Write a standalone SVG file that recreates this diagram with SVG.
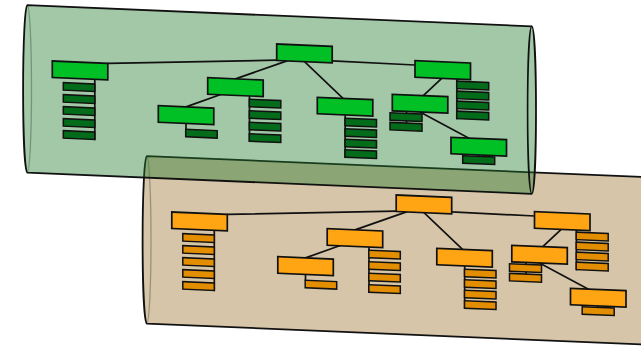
<svg xmlns="http://www.w3.org/2000/svg" width="641" height="346" viewBox="0 0 641 346">
  <style>
    .cyl-g { fill: #247c2d; fill-opacity: 0.42; stroke: #111; stroke-width: 1.8; }
    .cyl-o { fill: #d6c5a8; stroke: #111; stroke-width: 1.8; }
    .cap { fill: none; stroke: #111; stroke-width: 1.6; }
    .cap-in { fill: none; stroke: #1d3a1f; stroke-opacity: 0.35; stroke-width: 1.3; }
    .edge { fill: none; stroke: #111; stroke-width: 1.7; stroke-linecap: round; }
    .node-g { fill: #00c026; stroke: #111; stroke-width: 1.7; }
    .item-g { fill: #036c1a; stroke: #111; stroke-width: 1.5; }
    .node-o { fill: #ffa514; stroke: #111; stroke-width: 1.7; }
    .item-o { fill: #e38e00; stroke: #111; stroke-width: 1.5; }
  </style>

  <!-- lower (orange) tree: same layout, shifted down-right -->
  <g id="orange-tree" transform="translate(119.5,151)">
    <g transform="skewY(2.4)">
      <g id="o-cylinder">
        <path class="cyl-o" d="M27.3,4 H531.8 A4.2,83.75 0 0 1 531.8,171.5 H27.3 A4.2,83.75 0 0 1 27.3,4 Z"/>
        <path class="cap-in" d="M27.3,4 A4.2,83.75 0 0 1 27.3,171.5"/>
        <path class="cap" d="M531.8,4 A4.2,83.75 0 0 0 531.8,171.5"/>
      </g>
      <g id="o-connectors">
        <path class="edge" d="M108.3,58.8 L277,48.6"/>
        <path class="edge" d="M287,48.9 L235.5,69"/>
        <path class="edge" d="M304.5,48.9 L343,84"/>
        <path class="edge" d="M332,47 L415,47.6"/>
        <path class="edge" d="M220,85.5 L186,99.1"/>
        <path class="edge" d="M441.7,59.8 L423.3,77.9"/>
        <path class="edge" d="M420,94.4 L468.5,118.4"/>
        <path class="edge" d="M94.8,75.3 V135.5"/>
        <path class="edge" d="M249.5,85.5 V130.8"/>
        <path class="edge" d="M186,115.6 V121.5"/>
        <path class="edge" d="M345.2,100.5 V142.8"/>
        <path class="edge" d="M457,59.8 V99.5"/>
        <path class="edge" d="M406.5,94.4 V106"/>
        <path class="edge" d="M478.5,134.9 V136.3"/>
      </g>
      <g id="o-root"><rect class="node-o" x="276.7" y="32.4" width="55.5" height="16.5"/></g>
      <g id="o-l1"><rect class="node-o" x="52.3" y="58.8" width="55.5" height="16.5"/></g>
      <g id="o-l1-items">
        <rect class="item-o" x="63.3" y="80" width="31.5" height="7.5"/>
        <rect class="item-o" x="63.3" y="92" width="31.5" height="7.5"/>
        <rect class="item-o" x="63.3" y="104" width="31.5" height="7.5"/>
        <rect class="item-o" x="63.3" y="116" width="31.5" height="7.5"/>
        <rect class="item-o" x="63.3" y="128" width="31.5" height="7.5"/>
      </g>
      <g id="o-m1"><rect class="node-o" x="207.7" y="69" width="55.5" height="16.5"/></g>
      <g id="o-m1-items">
        <rect class="item-o" x="249.3" y="88.8" width="31.5" height="7.5"/>
        <rect class="item-o" x="249.3" y="100.3" width="31.5" height="7.5"/>
        <rect class="item-o" x="249.3" y="111.8" width="31.5" height="7.5"/>
        <rect class="item-o" x="249.3" y="123.3" width="31.5" height="7.5"/>
      </g>
      <g id="o-m2"><rect class="node-o" x="158.3" y="99.1" width="55.5" height="16.5"/></g>
      <g id="o-m2-items"><rect class="item-o" x="185.7" y="121.5" width="31.5" height="7.5"/></g>
      <g id="o-m3"><rect class="node-o" x="317.3" y="84" width="55.5" height="16.5"/></g>
      <g id="o-m3-items">
        <rect class="item-o" x="345" y="103.8" width="31.5" height="7.5"/>
        <rect class="item-o" x="345" y="114.3" width="31.5" height="7.5"/>
        <rect class="item-o" x="345" y="124.8" width="31.5" height="7.5"/>
        <rect class="item-o" x="345" y="135.3" width="31.5" height="7.5"/>
      </g>
      <g id="o-n1"><rect class="node-o" x="415" y="43.3" width="55.5" height="16.5"/></g>
      <g id="o-n1-items">
        <rect class="item-o" x="456.7" y="62" width="32" height="7.5"/>
        <rect class="item-o" x="456.7" y="72" width="32" height="7.5"/>
        <rect class="item-o" x="456.7" y="82" width="32" height="7.5"/>
        <rect class="item-o" x="456.7" y="92" width="32" height="7.5"/>
      </g>
      <g id="o-n2"><rect class="node-o" x="392.3" y="77.9" width="55.5" height="16.5"/></g>
      <g id="o-n2-items">
        <rect class="item-o" x="390" y="96.4" width="32" height="7.5"/>
        <rect class="item-o" x="390" y="106" width="32" height="7.5"/>
      </g>
      <g id="o-n3"><rect class="node-o" x="451" y="118.4" width="55.5" height="16.5"/></g>
      <g id="o-n3-items"><rect class="item-o" x="462.7" y="136.3" width="32" height="7.5"/></g>
    </g>
  </g>

  <!-- upper (green) tree, translucent shell drawn over the lower one -->
  <g id="green-tree" transform="skewY(2.4)">
    <g id="g-cylinder">
      <path class="cyl-g" d="M27.3,4 H531.8 A4.2,83.75 0 0 1 531.8,171.5 H27.3 A4.2,83.75 0 0 1 27.3,4 Z"/>
      <path class="cap-in" d="M27.3,4 A4.2,83.75 0 0 1 27.3,171.5"/>
      <path class="cap" d="M531.8,4 A4.2,83.75 0 0 0 531.8,171.5"/>
    </g>
    <g id="g-connectors">
      <path class="edge" d="M108.3,58.8 L277,48.6"/>
      <path class="edge" d="M287,48.9 L235.5,69"/>
      <path class="edge" d="M304.5,48.9 L343,84"/>
      <path class="edge" d="M332,47 L415,47.6"/>
      <path class="edge" d="M220,85.5 L186,99.1"/>
      <path class="edge" d="M441.7,59.8 L423.3,77.9"/>
      <path class="edge" d="M420,94.4 L468.5,118.4"/>
      <path class="edge" d="M94.8,75.3 V135.5"/>
      <path class="edge" d="M249.5,85.5 V130.8"/>
      <path class="edge" d="M186,115.6 V121.5"/>
      <path class="edge" d="M345.2,100.5 V142.8"/>
      <path class="edge" d="M457,59.8 V99.5"/>
      <path class="edge" d="M406.5,94.4 V106"/>
      <path class="edge" d="M478.5,134.9 V136.3"/>
    </g>
    <g id="g-root"><rect class="node-g" x="276.7" y="32.4" width="55.5" height="16.5"/></g>
    <g id="g-l1"><rect class="node-g" x="52.3" y="58.8" width="55.5" height="16.5"/></g>
    <g id="g-l1-items">
      <rect class="item-g" x="63.3" y="80" width="31.5" height="7.5"/>
      <rect class="item-g" x="63.3" y="92" width="31.5" height="7.5"/>
      <rect class="item-g" x="63.3" y="104" width="31.5" height="7.5"/>
      <rect class="item-g" x="63.3" y="116" width="31.5" height="7.5"/>
      <rect class="item-g" x="63.3" y="128" width="31.5" height="7.5"/>
    </g>
    <g id="g-m1"><rect class="node-g" x="207.7" y="69" width="55.5" height="16.5"/></g>
    <g id="g-m1-items">
      <rect class="item-g" x="249.3" y="88.8" width="31.5" height="7.5"/>
      <rect class="item-g" x="249.3" y="100.3" width="31.5" height="7.5"/>
      <rect class="item-g" x="249.3" y="111.8" width="31.5" height="7.5"/>
      <rect class="item-g" x="249.3" y="123.3" width="31.5" height="7.5"/>
    </g>
    <g id="g-m2"><rect class="node-g" x="158.3" y="99.1" width="55.5" height="16.5"/></g>
    <g id="g-m2-items"><rect class="item-g" x="185.7" y="121.5" width="31.5" height="7.5"/></g>
    <g id="g-m3"><rect class="node-g" x="317.3" y="84" width="55.5" height="16.5"/></g>
    <g id="g-m3-items">
      <rect class="item-g" x="345" y="103.8" width="31.5" height="7.5"/>
      <rect class="item-g" x="345" y="114.3" width="31.5" height="7.5"/>
      <rect class="item-g" x="345" y="124.8" width="31.5" height="7.5"/>
      <rect class="item-g" x="345" y="135.3" width="31.5" height="7.5"/>
    </g>
    <g id="g-n1"><rect class="node-g" x="415" y="43.3" width="55.5" height="16.5"/></g>
    <g id="g-n1-items">
      <rect class="item-g" x="456.7" y="62" width="32" height="7.5"/>
      <rect class="item-g" x="456.7" y="72" width="32" height="7.5"/>
      <rect class="item-g" x="456.7" y="82" width="32" height="7.5"/>
      <rect class="item-g" x="456.7" y="92" width="32" height="7.5"/>
    </g>
    <g id="g-n2"><rect class="node-g" x="392.3" y="77.9" width="55.5" height="16.5"/></g>
    <g id="g-n2-items">
      <rect class="item-g" x="390" y="96.4" width="32" height="7.5"/>
      <rect class="item-g" x="390" y="106" width="32" height="7.5"/>
    </g>
    <g id="g-n3"><rect class="node-g" x="451" y="118.4" width="55.5" height="16.5"/></g>
    <g id="g-n3-items"><rect class="item-g" x="462.7" y="136.3" width="32" height="7.5"/></g>
  </g>
</svg>
